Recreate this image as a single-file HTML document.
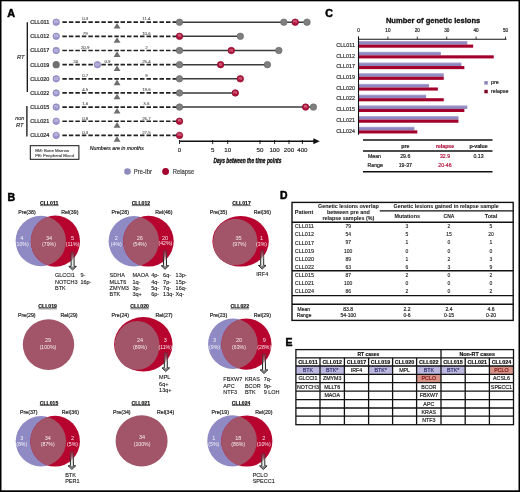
<!DOCTYPE html>
<html><head><meta charset="utf-8"><style>
html,body{margin:0;padding:0;background:#fff;overflow:hidden;width:520px;height:492px;}
svg{display:block;will-change:transform;font-family:"Liberation Sans", sans-serif;}
</style></head><body>
<svg width="520" height="492" viewBox="0 0 520 492">
<rect x="0.00" y="0.00" width="520.00" height="492.00" fill="#fff" />
<text x="7.30" y="16.97" font-size="10.8" text-anchor="start" stroke="#000" stroke-width="0.5" font-weight="bold" fill="#000" >A</text>
<line x1="27.30" y1="22.30" x2="27.30" y2="92.00" stroke="#111" stroke-width="1.3" />
<line x1="26.90" y1="105.90" x2="26.90" y2="136.40" stroke="#111" stroke-width="1.3" />
<text x="20.80" y="59.38" font-size="5.8" text-anchor="middle" stroke="#333" stroke-width="0.18" font-style="italic" fill="#333" >RT</text>
<text x="19.80" y="120.23" font-size="5.5" text-anchor="middle" stroke="#333" stroke-width="0.18" font-style="italic" fill="#333" >non</text>
<text x="19.80" y="126.78" font-size="5.8" text-anchor="middle" stroke="#333" stroke-width="0.18" font-style="italic" fill="#333" >RT</text>
<text x="30.20" y="24.13" font-size="5.4" text-anchor="start" stroke="#2a2a2a" stroke-width="0.22" fill="#2a2a2a" textLength="19.2" lengthAdjust="spacingAndGlyphs" >CLL011</text>
<line x1="62.35" y1="22.20" x2="118.90" y2="22.20" stroke="#222" stroke-width="1.7" stroke-dasharray="4.5 2"/>
<line x1="120.50" y1="22.20" x2="177.00" y2="22.20" stroke="#222" stroke-width="1.7" stroke-dasharray="4.5 2"/>
<polygon points="113.6,28.60 117.05,23.00 120.5,28.60" fill="#6e6e6e"/>
<text x="85.20" y="20.48" font-size="4.4" text-anchor="middle" stroke="#444" stroke-width="0.05" fill="#444" >0.3</text>
<text x="146.40" y="20.48" font-size="4.4" text-anchor="middle" stroke="#444" stroke-width="0.05" fill="#444" >11.4</text>
<text x="30.20" y="38.28" font-size="5.4" text-anchor="start" stroke="#2a2a2a" stroke-width="0.22" fill="#2a2a2a" textLength="19.2" lengthAdjust="spacingAndGlyphs" >CLL012</text>
<line x1="62.35" y1="36.35" x2="118.90" y2="36.35" stroke="#222" stroke-width="1.7" stroke-dasharray="4.5 2"/>
<line x1="120.50" y1="36.35" x2="177.00" y2="36.35" stroke="#222" stroke-width="1.7" stroke-dasharray="4.5 2"/>
<polygon points="113.6,42.75 117.05,37.15 120.5,42.75" fill="#6e6e6e"/>
<text x="85.20" y="34.63" font-size="4.4" text-anchor="middle" stroke="#444" stroke-width="0.05" fill="#444" >79</text>
<text x="146.40" y="34.63" font-size="4.4" text-anchor="middle" stroke="#444" stroke-width="0.05" fill="#444" >10.6</text>
<text x="30.20" y="52.43" font-size="5.4" text-anchor="start" stroke="#2a2a2a" stroke-width="0.22" fill="#2a2a2a" textLength="19.2" lengthAdjust="spacingAndGlyphs" >CLL017</text>
<line x1="62.35" y1="50.50" x2="118.90" y2="50.50" stroke="#222" stroke-width="1.7" stroke-dasharray="4.5 2"/>
<line x1="120.50" y1="50.50" x2="177.00" y2="50.50" stroke="#222" stroke-width="1.7" stroke-dasharray="4.5 2"/>
<polygon points="113.6,56.90 117.05,51.30 120.5,56.90" fill="#6e6e6e"/>
<text x="85.20" y="48.78" font-size="4.4" text-anchor="middle" stroke="#444" stroke-width="0.05" fill="#444" >20.9</text>
<text x="146.40" y="48.78" font-size="4.4" text-anchor="middle" stroke="#444" stroke-width="0.05" fill="#444" >2</text>
<text x="30.20" y="66.58" font-size="5.4" text-anchor="start" stroke="#2a2a2a" stroke-width="0.22" fill="#2a2a2a" textLength="19.2" lengthAdjust="spacingAndGlyphs" >CLL019</text>
<line x1="62.35" y1="64.65" x2="118.90" y2="64.65" stroke="#222" stroke-width="1.7" stroke-dasharray="4.5 2"/>
<line x1="120.50" y1="64.65" x2="177.00" y2="64.65" stroke="#222" stroke-width="1.7" stroke-dasharray="4.5 2"/>
<polygon points="113.6,71.05 117.05,65.45 120.5,71.05" fill="#6e6e6e"/>
<text x="146.40" y="62.93" font-size="4.4" text-anchor="middle" stroke="#444" stroke-width="0.05" fill="#444" >25.4</text>
<text x="30.20" y="80.73" font-size="5.4" text-anchor="start" stroke="#2a2a2a" stroke-width="0.22" fill="#2a2a2a" textLength="19.2" lengthAdjust="spacingAndGlyphs" >CLL020</text>
<line x1="62.35" y1="78.80" x2="118.90" y2="78.80" stroke="#222" stroke-width="1.7" stroke-dasharray="4.5 2"/>
<line x1="120.50" y1="78.80" x2="177.00" y2="78.80" stroke="#222" stroke-width="1.7" stroke-dasharray="4.5 2"/>
<polygon points="113.6,85.20 117.05,79.60 120.5,85.20" fill="#6e6e6e"/>
<text x="85.20" y="77.08" font-size="4.4" text-anchor="middle" stroke="#444" stroke-width="0.05" fill="#444" >0.7</text>
<text x="146.40" y="77.08" font-size="4.4" text-anchor="middle" stroke="#444" stroke-width="0.05" fill="#444" >9</text>
<text x="30.20" y="94.88" font-size="5.4" text-anchor="start" stroke="#2a2a2a" stroke-width="0.22" fill="#2a2a2a" textLength="19.2" lengthAdjust="spacingAndGlyphs" >CLL022</text>
<line x1="62.35" y1="92.95" x2="118.90" y2="92.95" stroke="#222" stroke-width="1.7" stroke-dasharray="4.5 2"/>
<line x1="120.50" y1="92.95" x2="177.00" y2="92.95" stroke="#222" stroke-width="1.7" stroke-dasharray="4.5 2"/>
<polygon points="113.6,99.35 117.05,93.75 120.5,99.35" fill="#6e6e6e"/>
<text x="85.20" y="91.23" font-size="4.4" text-anchor="middle" stroke="#444" stroke-width="0.05" fill="#444" >4.5</text>
<text x="146.40" y="91.23" font-size="4.4" text-anchor="middle" stroke="#444" stroke-width="0.05" fill="#444" >19.6</text>
<text x="30.20" y="109.03" font-size="5.4" text-anchor="start" stroke="#2a2a2a" stroke-width="0.22" fill="#2a2a2a" textLength="19.2" lengthAdjust="spacingAndGlyphs" >CLL015</text>
<line x1="62.35" y1="107.10" x2="118.90" y2="107.10" stroke="#222" stroke-width="1.7" stroke-dasharray="4.5 2"/>
<line x1="120.50" y1="107.10" x2="177.00" y2="107.10" stroke="#222" stroke-width="1.7" stroke-dasharray="4.5 2"/>
<polygon points="113.6,113.50 117.05,107.90 120.5,113.50" fill="#6e6e6e"/>
<text x="85.20" y="105.38" font-size="4.4" text-anchor="middle" stroke="#444" stroke-width="0.05" fill="#444" >1.6</text>
<text x="146.40" y="105.38" font-size="4.4" text-anchor="middle" stroke="#444" stroke-width="0.05" fill="#444" >3.6</text>
<text x="30.20" y="123.18" font-size="5.4" text-anchor="start" stroke="#2a2a2a" stroke-width="0.22" fill="#2a2a2a" textLength="19.2" lengthAdjust="spacingAndGlyphs" >CLL021</text>
<line x1="62.35" y1="121.25" x2="118.90" y2="121.25" stroke="#222" stroke-width="1.7" stroke-dasharray="4.5 2"/>
<line x1="120.50" y1="121.25" x2="177.00" y2="121.25" stroke="#222" stroke-width="1.7" stroke-dasharray="4.5 2"/>
<polygon points="113.6,127.65 117.05,122.05 120.5,127.65" fill="#6e6e6e"/>
<text x="85.20" y="119.53" font-size="4.4" text-anchor="middle" stroke="#444" stroke-width="0.05" fill="#444" >0.8</text>
<text x="146.40" y="119.53" font-size="4.4" text-anchor="middle" stroke="#444" stroke-width="0.05" fill="#444" >26.7</text>
<text x="30.20" y="137.33" font-size="5.4" text-anchor="start" stroke="#2a2a2a" stroke-width="0.22" fill="#2a2a2a" textLength="19.2" lengthAdjust="spacingAndGlyphs" >CLL024</text>
<line x1="62.35" y1="135.40" x2="118.90" y2="135.40" stroke="#222" stroke-width="1.7" stroke-dasharray="4.5 2"/>
<line x1="120.50" y1="135.40" x2="177.00" y2="135.40" stroke="#222" stroke-width="1.7" stroke-dasharray="4.5 2"/>
<polygon points="113.6,141.80 117.05,136.20 120.5,141.80" fill="#6e6e6e"/>
<text x="85.20" y="133.68" font-size="4.4" text-anchor="middle" stroke="#444" stroke-width="0.05" fill="#444" >0.3</text>
<text x="146.40" y="133.68" font-size="4.4" text-anchor="middle" stroke="#444" stroke-width="0.05" fill="#444" >27.5</text>
<text x="75.60" y="62.93" font-size="4.4" text-anchor="middle" stroke="#444" stroke-width="0.05" fill="#444" >24</text>
<text x="107.50" y="62.93" font-size="4.4" text-anchor="middle" stroke="#444" stroke-width="0.05" fill="#444" >0.9</text>
<line x1="179.50" y1="22.20" x2="307.00" y2="22.20" stroke="#3a3a3a" stroke-width="1.5" />
<line x1="179.50" y1="36.35" x2="240.30" y2="36.35" stroke="#3a3a3a" stroke-width="1.5" />
<line x1="179.50" y1="50.50" x2="278.80" y2="50.50" stroke="#3a3a3a" stroke-width="1.5" />
<line x1="179.50" y1="64.65" x2="267.40" y2="64.65" stroke="#3a3a3a" stroke-width="1.5" />
<line x1="179.50" y1="78.80" x2="240.30" y2="78.80" stroke="#3a3a3a" stroke-width="1.5" />
<line x1="179.50" y1="92.95" x2="235.30" y2="92.95" stroke="#3a3a3a" stroke-width="1.5" />
<line x1="179.50" y1="107.10" x2="313.40" y2="107.10" stroke="#3a3a3a" stroke-width="1.5" />
<circle cx="56.20" cy="22.20" r="3.25" fill="#9c96cc" stroke="#8a84c0" stroke-width="0.7"/>
<text x="56.20" y="23.20" font-size="2.8" text-anchor="middle" fill="#fff" fill-opacity="0.55">BM</text>
<circle cx="56.20" cy="36.35" r="3.25" fill="#9c96cc" stroke="#8a84c0" stroke-width="0.7"/>
<text x="56.20" y="37.35" font-size="2.8" text-anchor="middle" fill="#fff" fill-opacity="0.55">BM</text>
<circle cx="56.20" cy="50.50" r="3.25" fill="#9c96cc" stroke="#8a84c0" stroke-width="0.7"/>
<text x="56.20" y="51.50" font-size="2.8" text-anchor="middle" fill="#fff" fill-opacity="0.55">BM</text>
<circle cx="56.20" cy="64.65" r="3.60" fill="#6f6f6f" />
<circle cx="97.40" cy="64.65" r="3.25" fill="#9c96cc" stroke="#8a84c0" stroke-width="0.7"/>
<text x="97.40" y="65.65" font-size="2.8" text-anchor="middle" fill="#fff" fill-opacity="0.55">BM</text>
<circle cx="56.20" cy="78.80" r="3.25" fill="#9c96cc" stroke="#8a84c0" stroke-width="0.7"/>
<text x="56.20" y="79.80" font-size="2.8" text-anchor="middle" fill="#fff" fill-opacity="0.55">BM</text>
<circle cx="56.20" cy="92.95" r="3.25" fill="#9c96cc" stroke="#8a84c0" stroke-width="0.7"/>
<text x="56.20" y="93.95" font-size="2.8" text-anchor="middle" fill="#fff" fill-opacity="0.55">BM</text>
<circle cx="56.20" cy="107.10" r="3.25" fill="#9c96cc" stroke="#8a84c0" stroke-width="0.7"/>
<text x="56.20" y="108.10" font-size="2.8" text-anchor="middle" fill="#fff" fill-opacity="0.55">PB</text>
<circle cx="56.20" cy="121.25" r="3.25" fill="#9c96cc" stroke="#8a84c0" stroke-width="0.7"/>
<text x="56.20" y="122.25" font-size="2.8" text-anchor="middle" fill="#fff" fill-opacity="0.55">BM</text>
<circle cx="56.20" cy="135.40" r="3.25" fill="#9c96cc" stroke="#8a84c0" stroke-width="0.7"/>
<text x="56.20" y="136.40" font-size="2.8" text-anchor="middle" fill="#fff" fill-opacity="0.55">BM</text>
<circle cx="179.50" cy="22.20" r="3.25" fill="#7f7f7f" stroke="#6a6a6a" stroke-width="0.7"/>
<circle cx="283.80" cy="22.20" r="3.25" fill="#7f7f7f" stroke="#6a6a6a" stroke-width="0.7"/>
<circle cx="295.20" cy="22.20" r="3.25" fill="#b3123a" stroke="#8a0a2c" stroke-width="0.7"/>
<text x="295.20" y="23.20" font-size="2.8" text-anchor="middle" fill="#fff" fill-opacity="0.55">PB</text>
<circle cx="307.00" cy="22.20" r="3.25" fill="#7f7f7f" stroke="#6a6a6a" stroke-width="0.7"/>
<circle cx="179.50" cy="36.35" r="3.25" fill="#b3123a" stroke="#8a0a2c" stroke-width="0.7"/>
<text x="179.50" y="37.35" font-size="2.8" text-anchor="middle" fill="#fff" fill-opacity="0.55">PB</text>
<circle cx="240.30" cy="36.35" r="3.25" fill="#7f7f7f" stroke="#6a6a6a" stroke-width="0.7"/>
<circle cx="179.50" cy="50.50" r="3.25" fill="#7f7f7f" stroke="#6a6a6a" stroke-width="0.7"/>
<circle cx="231.30" cy="50.50" r="3.25" fill="#b3123a" stroke="#8a0a2c" stroke-width="0.7"/>
<text x="231.30" y="51.50" font-size="2.8" text-anchor="middle" fill="#fff" fill-opacity="0.55">PB</text>
<circle cx="278.80" cy="50.50" r="3.25" fill="#7f7f7f" stroke="#6a6a6a" stroke-width="0.7"/>
<circle cx="179.50" cy="64.65" r="3.25" fill="#7f7f7f" stroke="#6a6a6a" stroke-width="0.7"/>
<circle cx="220.60" cy="64.65" r="3.25" fill="#b3123a" stroke="#8a0a2c" stroke-width="0.7"/>
<text x="220.60" y="65.65" font-size="2.8" text-anchor="middle" fill="#fff" fill-opacity="0.55">PB</text>
<circle cx="267.40" cy="64.65" r="3.25" fill="#7f7f7f" stroke="#6a6a6a" stroke-width="0.7"/>
<circle cx="179.50" cy="78.80" r="3.25" fill="#7f7f7f" stroke="#6a6a6a" stroke-width="0.7"/>
<circle cx="240.30" cy="78.80" r="3.25" fill="#b3123a" stroke="#8a0a2c" stroke-width="0.7"/>
<text x="240.30" y="79.80" font-size="2.8" text-anchor="middle" fill="#fff" fill-opacity="0.55">PB</text>
<circle cx="179.50" cy="92.95" r="3.25" fill="#7f7f7f" stroke="#6a6a6a" stroke-width="0.7"/>
<circle cx="235.30" cy="92.95" r="3.25" fill="#b3123a" stroke="#8a0a2c" stroke-width="0.7"/>
<text x="235.30" y="93.95" font-size="2.8" text-anchor="middle" fill="#fff" fill-opacity="0.55">PB</text>
<circle cx="179.50" cy="107.10" r="3.25" fill="#7f7f7f" stroke="#6a6a6a" stroke-width="0.7"/>
<circle cx="305.60" cy="107.10" r="3.25" fill="#b3123a" stroke="#8a0a2c" stroke-width="0.7"/>
<text x="305.60" y="108.10" font-size="2.8" text-anchor="middle" fill="#fff" fill-opacity="0.55">PB</text>
<circle cx="313.40" cy="107.10" r="3.25" fill="#7f7f7f" stroke="#6a6a6a" stroke-width="0.7"/>
<circle cx="179.50" cy="121.25" r="3.25" fill="#b3123a" stroke="#8a0a2c" stroke-width="0.7"/>
<text x="179.50" y="122.25" font-size="2.8" text-anchor="middle" fill="#fff" fill-opacity="0.55">PB</text>
<circle cx="179.50" cy="135.40" r="3.25" fill="#b3123a" stroke="#8a0a2c" stroke-width="0.7"/>
<text x="179.50" y="136.40" font-size="2.8" text-anchor="middle" fill="#fff" fill-opacity="0.55">BM</text>
<line x1="179.50" y1="141.30" x2="316.00" y2="141.30" stroke="#111" stroke-width="1.6" />
<polygon points="313.3,138.3 319.8,141.3 313.3,144.3" fill="#111"/>
<line x1="179.50" y1="140.00" x2="179.50" y2="144.00" stroke="#111" stroke-width="0.9" />
<text x="179.50" y="151.65" font-size="6.2" text-anchor="middle" stroke="#222" stroke-width="0.15" fill="#222" >0</text>
<line x1="212.70" y1="140.00" x2="212.70" y2="144.00" stroke="#111" stroke-width="0.9" />
<text x="212.70" y="151.65" font-size="6.2" text-anchor="middle" stroke="#222" stroke-width="0.15" fill="#222" >5</text>
<line x1="227.70" y1="140.00" x2="227.70" y2="144.00" stroke="#111" stroke-width="0.9" />
<text x="227.70" y="151.65" font-size="6.2" text-anchor="middle" stroke="#222" stroke-width="0.15" fill="#222" >10</text>
<line x1="260.00" y1="140.00" x2="260.00" y2="144.00" stroke="#111" stroke-width="0.9" />
<text x="260.00" y="151.65" font-size="6.2" text-anchor="middle" stroke="#222" stroke-width="0.15" fill="#222" >50</text>
<line x1="274.60" y1="140.00" x2="274.60" y2="144.00" stroke="#111" stroke-width="0.9" />
<text x="274.60" y="151.65" font-size="6.2" text-anchor="middle" stroke="#222" stroke-width="0.15" fill="#222" >100</text>
<line x1="289.00" y1="140.00" x2="289.00" y2="144.00" stroke="#111" stroke-width="0.9" />
<text x="289.00" y="151.65" font-size="6.2" text-anchor="middle" stroke="#222" stroke-width="0.15" fill="#222" >200</text>
<line x1="302.40" y1="140.00" x2="302.40" y2="144.00" stroke="#111" stroke-width="0.9" />
<text x="302.40" y="151.65" font-size="6.2" text-anchor="middle" stroke="#222" stroke-width="0.15" fill="#222" >400</text>
<text x="247.40" y="162.99" font-size="7.8" text-anchor="middle" stroke="#1a1a1a" stroke-width="0.35" font-weight="bold" font-style="italic" textLength="68" lengthAdjust="spacingAndGlyphs" >Days between the time points</text>
<text x="116.80" y="149.99" font-size="5.0" text-anchor="middle" stroke="#222" stroke-width="0.18" font-style="italic" fill="#222" textLength="54" lengthAdjust="spacingAndGlyphs" >Numbers are in months</text>
<rect x="30.3" y="145.7" width="48.6" height="13.6" fill="none" stroke="#111" stroke-width="1"/>
<text x="35.20" y="151.78" font-size="4.4" text-anchor="start" stroke="#333" stroke-width="0.1" fill="#333" textLength="34" lengthAdjust="spacingAndGlyphs" >BM: Bone Marrow</text>
<text x="35.20" y="156.58" font-size="4.4" text-anchor="start" stroke="#333" stroke-width="0.1" fill="#333" textLength="38.8" lengthAdjust="spacingAndGlyphs" >PB: Peripheral Blood</text>
<circle cx="127.50" cy="171.50" r="3.30" fill="#8e8ab9" />
<circle cx="165.60" cy="171.50" r="3.40" fill="#a3052c" />
<text x="133.70" y="173.79" font-size="6.4" text-anchor="start" stroke="#444" stroke-width="0.2" fill="#444" textLength="18.3" lengthAdjust="spacingAndGlyphs" >Pre-Ibr</text>
<text x="172.70" y="173.79" font-size="6.4" text-anchor="start" stroke="#444" stroke-width="0.2" fill="#444" textLength="21.5" lengthAdjust="spacingAndGlyphs" >Relapse</text>
<defs><linearGradient id="bl" x1="0" y1="0" x2="0" y2="1"><stop offset="0" stop-color="#b3acd6"/><stop offset="0.45" stop-color="#9088c0"/><stop offset="1" stop-color="#8c84bd"/></linearGradient></defs>
<text x="325.20" y="17.19" font-size="10.6" text-anchor="start" stroke="#000" stroke-width="0.5" font-weight="bold" fill="#000" >C</text>
<text x="385.90" y="22.95" font-size="7.4" text-anchor="start" stroke="#111" stroke-width="0.3" font-weight="bold" fill="#111" textLength="94.3" lengthAdjust="spacingAndGlyphs" >Number of genetic lesions</text>
<text x="358.50" y="32.15" font-size="4.6" text-anchor="middle" stroke="#222" stroke-width="0.18" fill="#222" >0</text>
<line x1="358.50" y1="36.60" x2="358.50" y2="39.20" stroke="#111" stroke-width="0.8" />
<text x="387.90" y="32.15" font-size="4.6" text-anchor="middle" stroke="#222" stroke-width="0.18" fill="#222" >10</text>
<line x1="387.90" y1="36.60" x2="387.90" y2="39.20" stroke="#111" stroke-width="0.8" />
<text x="417.30" y="32.15" font-size="4.6" text-anchor="middle" stroke="#222" stroke-width="0.18" fill="#222" >20</text>
<line x1="417.30" y1="36.60" x2="417.30" y2="39.20" stroke="#111" stroke-width="0.8" />
<text x="446.70" y="32.15" font-size="4.6" text-anchor="middle" stroke="#222" stroke-width="0.18" fill="#222" >30</text>
<line x1="446.70" y1="36.60" x2="446.70" y2="39.20" stroke="#111" stroke-width="0.8" />
<text x="476.10" y="32.15" font-size="4.6" text-anchor="middle" stroke="#222" stroke-width="0.18" fill="#222" >40</text>
<line x1="476.10" y1="36.60" x2="476.10" y2="39.20" stroke="#111" stroke-width="0.8" />
<text x="505.50" y="32.15" font-size="4.6" text-anchor="middle" stroke="#222" stroke-width="0.18" fill="#222" >50</text>
<line x1="505.50" y1="36.60" x2="505.50" y2="39.20" stroke="#111" stroke-width="0.8" />
<line x1="358.50" y1="39.20" x2="506.50" y2="39.20" stroke="#111" stroke-width="1.1" />
<rect x="358.50" y="41.00" width="108.78" height="3.60" fill="url(#bl)" />
<rect x="358.50" y="44.60" width="114.66" height="3.10" fill="#a3002b" />
<text x="355.00" y="46.80" font-size="5.3" text-anchor="end" stroke="#222" stroke-width="0.14" fill="#222" textLength="18.8" lengthAdjust="spacingAndGlyphs" >CLL011</text>
<rect x="358.50" y="51.72" width="82.32" height="3.60" fill="url(#bl)" />
<rect x="358.50" y="55.32" width="135.24" height="3.10" fill="#a3002b" />
<text x="355.00" y="57.52" font-size="5.3" text-anchor="end" stroke="#222" stroke-width="0.14" fill="#222" textLength="18.8" lengthAdjust="spacingAndGlyphs" >CLL012</text>
<rect x="358.50" y="62.44" width="102.90" height="3.60" fill="url(#bl)" />
<rect x="358.50" y="66.04" width="105.84" height="3.10" fill="#a3002b" />
<text x="355.00" y="68.24" font-size="5.3" text-anchor="end" stroke="#222" stroke-width="0.14" fill="#222" textLength="18.8" lengthAdjust="spacingAndGlyphs" >CLL017</text>
<rect x="358.50" y="73.16" width="85.26" height="3.60" fill="url(#bl)" />
<rect x="358.50" y="76.76" width="85.26" height="3.10" fill="#a3002b" />
<text x="355.00" y="78.96" font-size="5.3" text-anchor="end" stroke="#222" stroke-width="0.14" fill="#222" textLength="18.8" lengthAdjust="spacingAndGlyphs" >CLL019</text>
<rect x="358.50" y="83.88" width="70.56" height="3.60" fill="url(#bl)" />
<rect x="358.50" y="87.48" width="79.38" height="3.10" fill="#a3002b" />
<text x="355.00" y="89.68" font-size="5.3" text-anchor="end" stroke="#222" stroke-width="0.14" fill="#222" textLength="18.8" lengthAdjust="spacingAndGlyphs" >CLL020</text>
<rect x="358.50" y="94.60" width="67.62" height="3.60" fill="url(#bl)" />
<rect x="358.50" y="98.20" width="85.26" height="3.10" fill="#a3002b" />
<text x="355.00" y="100.40" font-size="5.3" text-anchor="end" stroke="#222" stroke-width="0.14" fill="#222" textLength="18.8" lengthAdjust="spacingAndGlyphs" >CLL022</text>
<rect x="358.50" y="105.32" width="108.78" height="3.60" fill="url(#bl)" />
<rect x="358.50" y="108.92" width="105.84" height="3.10" fill="#a3002b" />
<text x="355.00" y="111.12" font-size="5.3" text-anchor="end" stroke="#222" stroke-width="0.14" fill="#222" textLength="18.8" lengthAdjust="spacingAndGlyphs" >CLL015</text>
<rect x="358.50" y="116.04" width="99.96" height="3.60" fill="url(#bl)" />
<rect x="358.50" y="119.64" width="99.96" height="3.10" fill="#a3002b" />
<text x="355.00" y="121.84" font-size="5.3" text-anchor="end" stroke="#222" stroke-width="0.14" fill="#222" textLength="18.8" lengthAdjust="spacingAndGlyphs" >CLL021</text>
<rect x="358.50" y="126.76" width="55.86" height="3.60" fill="url(#bl)" />
<rect x="358.50" y="130.36" width="58.80" height="3.10" fill="#a3002b" />
<text x="355.00" y="132.56" font-size="5.3" text-anchor="end" stroke="#222" stroke-width="0.14" fill="#222" textLength="18.8" lengthAdjust="spacingAndGlyphs" >CLL024</text>
<line x1="358.50" y1="36.50" x2="358.50" y2="134.80" stroke="#111" stroke-width="1.1" />
<rect x="484.30" y="81.10" width="3.50" height="3.50" fill="#8a87b5" />
<rect x="484.30" y="89.80" width="3.50" height="3.50" fill="#7e0a28" />
<text x="491.00" y="84.18" font-size="5.3" text-anchor="start" stroke="#222" stroke-width="0.18" fill="#222" >pre</text>
<text x="491.00" y="92.88" font-size="5.3" text-anchor="start" stroke="#222" stroke-width="0.18" fill="#222" >relapse</text>
<line x1="363.00" y1="140.00" x2="492.50" y2="140.00" stroke="#111" stroke-width="1.5" />
<line x1="363.00" y1="150.90" x2="492.50" y2="150.90" stroke="#111" stroke-width="1.5" />
<line x1="363.00" y1="171.70" x2="492.50" y2="171.70" stroke="#111" stroke-width="1.5" />
<text x="405.30" y="147.55" font-size="5.2" text-anchor="middle" stroke="#222" stroke-width="0.18" font-weight="bold" fill="#222" >pre</text>
<text x="445.00" y="147.55" font-size="5.2" text-anchor="middle" stroke="#b0123a" stroke-width="0.18" font-weight="bold" fill="#b0123a" >relapse</text>
<text x="478.50" y="147.55" font-size="5.2" text-anchor="middle" stroke="#222" stroke-width="0.18" font-weight="bold" fill="#222" >p-value</text>
<text x="368.00" y="158.46" font-size="5.2" text-anchor="start" stroke="#222" stroke-width="0.18" fill="#222" >Mean</text>
<text x="367.50" y="167.26" font-size="5.2" text-anchor="start" stroke="#222" stroke-width="0.18" fill="#222" >Range</text>
<text x="405.30" y="158.46" font-size="5.2" text-anchor="middle" stroke="#222" stroke-width="0.18" fill="#222" >29.6</text>
<text x="445.00" y="158.46" font-size="5.2" text-anchor="middle" stroke="#b0123a" stroke-width="0.18" fill="#b0123a" >32.9</text>
<text x="478.50" y="158.46" font-size="5.2" text-anchor="middle" stroke="#222" stroke-width="0.18" fill="#222" >0.13</text>
<text x="405.30" y="167.26" font-size="5.2" text-anchor="middle" stroke="#222" stroke-width="0.18" fill="#222" >19-37</text>
<text x="445.00" y="167.26" font-size="5.2" text-anchor="middle" stroke="#b0123a" stroke-width="0.18" fill="#b0123a" >20-46</text>
<defs><linearGradient id="ag" x1="0" y1="0" x2="0" y2="1"><stop offset="0" stop-color="#555" stop-opacity="0.35"/><stop offset="0.55" stop-color="#e6ebe6" stop-opacity="0.9"/><stop offset="1" stop-color="#e6ebe6"/></linearGradient><linearGradient id="as" x1="0" y1="0" x2="0" y2="1"><stop offset="0" stop-color="#333" stop-opacity="0.3"/><stop offset="0.5" stop-color="#2a2a2a"/><stop offset="1" stop-color="#222"/></linearGradient></defs>
<text x="7.50" y="200.59" font-size="10.6" text-anchor="start" stroke="#000" stroke-width="0.5" font-weight="bold" fill="#000" >B</text>
<text x="49.20" y="205.20" font-size="5.6" text-anchor="middle" stroke="#111" stroke-width="0.18" font-weight="bold" fill="#111" textLength="18.5" lengthAdjust="spacingAndGlyphs" >CLL011</text>
<line x1="39.95" y1="205.60" x2="58.45" y2="205.60" stroke="#111" stroke-width="0.6" />
<text x="18.20" y="214.10" font-size="5.3" text-anchor="start" stroke="#222" stroke-width="0.18" fill="#222" textLength="17.5" lengthAdjust="spacingAndGlyphs" >Pre(38)</text>
<text x="61.20" y="214.10" font-size="5.3" text-anchor="start" stroke="#222" stroke-width="0.18" fill="#222" textLength="17.2" lengthAdjust="spacingAndGlyphs" >Rel(39)</text>
<ellipse cx="40.80" cy="241.00" rx="25.20" ry="25.20" fill="#8f89c4" />
<ellipse cx="55.40" cy="241.20" rx="24.60" ry="25.60" fill="#b6042f" />
<clipPath id="c1"><ellipse cx="40.8" cy="241.0" rx="25.2" ry="25.2"/></clipPath>
<ellipse cx="55.4" cy="241.2" rx="24.6" ry="25.6" fill="#a25568" clip-path="url(#c1)"/>
<text x="21.70" y="240.17" font-size="5.5" text-anchor="middle" fill="#fff" fill-opacity="0.9">4</text>
<text x="21.70" y="246.16" font-size="5.2" text-anchor="middle" fill="#fff" fill-opacity="0.9">(10%)</text>
<text x="49.00" y="240.17" font-size="5.5" text-anchor="middle" fill="#fff" fill-opacity="0.9">34</text>
<text x="49.00" y="246.16" font-size="5.2" text-anchor="middle" fill="#fff" fill-opacity="0.9">(79%)</text>
<text x="72.60" y="240.17" font-size="5.5" text-anchor="middle" fill="#fff" fill-opacity="0.9">5</text>
<text x="72.60" y="246.16" font-size="5.2" text-anchor="middle" fill="#fff" fill-opacity="0.9">(11%)</text>
<polygon points="71.10,252.00 74.10,252.00 74.10,266.40 76.40,266.40 72.60,270.00 68.80,266.40 71.10,266.40" fill="url(#ag)" stroke="url(#as)" stroke-width="1.0" stroke-linejoin="miter"/>
<polygon points="69.40,266.70 75.80,266.70 72.60,269.40" fill="#3a3a3a" opacity="0.6"/>
<text x="55.00" y="277.37" font-size="5.5" text-anchor="start" stroke="#222" stroke-width="0.12" fill="#222" >GLCCI1</text>
<text x="55.00" y="283.67" font-size="5.5" text-anchor="start" stroke="#222" stroke-width="0.12" fill="#222" >NOTCH3</text>
<text x="55.00" y="289.97" font-size="5.5" text-anchor="start" stroke="#222" stroke-width="0.12" fill="#222" >BTK</text>
<text x="80.40" y="277.37" font-size="5.5" text-anchor="start" stroke="#222" stroke-width="0.12" fill="#222" >9-</text>
<text x="80.40" y="283.67" font-size="5.5" text-anchor="start" stroke="#222" stroke-width="0.12" fill="#222" >16p-</text>
<text x="140.90" y="205.20" font-size="5.6" text-anchor="middle" stroke="#111" stroke-width="0.18" font-weight="bold" fill="#111" textLength="18.5" lengthAdjust="spacingAndGlyphs" >CLL012</text>
<line x1="131.65" y1="205.60" x2="150.15" y2="205.60" stroke="#111" stroke-width="0.6" />
<text x="111.40" y="213.90" font-size="5.3" text-anchor="start" stroke="#222" stroke-width="0.18" fill="#222" textLength="17.5" lengthAdjust="spacingAndGlyphs" >Pre(28)</text>
<text x="155.30" y="213.90" font-size="5.3" text-anchor="start" stroke="#222" stroke-width="0.18" fill="#222" textLength="17.2" lengthAdjust="spacingAndGlyphs" >Rel(46)</text>
<ellipse cx="133.80" cy="241.20" rx="25.20" ry="25.20" fill="#8f89c4" />
<ellipse cx="148.40" cy="241.20" rx="25.30" ry="25.40" fill="#b6042f" />
<clipPath id="c2"><ellipse cx="133.8" cy="241.2" rx="25.2" ry="25.2"/></clipPath>
<ellipse cx="148.4" cy="241.2" rx="25.3" ry="25.4" fill="#a25568" clip-path="url(#c2)"/>
<text x="116.30" y="239.67" font-size="5.5" text-anchor="middle" fill="#fff" fill-opacity="0.9">2</text>
<text x="116.30" y="245.76" font-size="5.2" text-anchor="middle" fill="#fff" fill-opacity="0.9">(4%)</text>
<text x="139.80" y="239.67" font-size="5.5" text-anchor="middle" fill="#fff" fill-opacity="0.9">26</text>
<text x="139.80" y="245.76" font-size="5.2" text-anchor="middle" fill="#fff" fill-opacity="0.9">(54%)</text>
<text x="165.00" y="239.77" font-size="5.5" text-anchor="middle" fill="#fff" fill-opacity="0.9">20</text>
<text x="165.40" y="245.46" font-size="5.2" text-anchor="middle" fill="#fff" fill-opacity="0.9">(42%)</text>
<polygon points="163.50,250.50 166.50,250.50 166.50,265.70 168.80,265.70 165.00,269.30 161.20,265.70 163.50,265.70" fill="url(#ag)" stroke="url(#as)" stroke-width="1.0" stroke-linejoin="miter"/>
<polygon points="161.80,266.00 168.20,266.00 165.00,268.70" fill="#3a3a3a" opacity="0.6"/>
<text x="109.60" y="277.37" font-size="5.5" text-anchor="start" stroke="#222" stroke-width="0.12" fill="#222" >SDHA</text>
<text x="109.60" y="283.67" font-size="5.5" text-anchor="start" stroke="#222" stroke-width="0.12" fill="#222" >MLLT6</text>
<text x="109.60" y="289.97" font-size="5.5" text-anchor="start" stroke="#222" stroke-width="0.12" fill="#222" >ZMYM3</text>
<text x="109.60" y="296.27" font-size="5.5" text-anchor="start" stroke="#222" stroke-width="0.12" fill="#222" >BTK</text>
<text x="132.40" y="277.37" font-size="5.5" text-anchor="start" stroke="#222" stroke-width="0.12" fill="#222" >MAOA</text>
<text x="132.40" y="283.67" font-size="5.5" text-anchor="start" stroke="#222" stroke-width="0.12" fill="#222" >1q-</text>
<text x="132.40" y="289.97" font-size="5.5" text-anchor="start" stroke="#222" stroke-width="0.12" fill="#222" >3p-</text>
<text x="132.40" y="296.27" font-size="5.5" text-anchor="start" stroke="#222" stroke-width="0.12" fill="#222" >3q+</text>
<text x="151.20" y="277.37" font-size="5.5" text-anchor="start" stroke="#222" stroke-width="0.12" fill="#222" >4p-</text>
<text x="151.20" y="283.67" font-size="5.5" text-anchor="start" stroke="#222" stroke-width="0.12" fill="#222" >4q-</text>
<text x="151.20" y="289.97" font-size="5.5" text-anchor="start" stroke="#222" stroke-width="0.12" fill="#222" >5q-</text>
<text x="151.20" y="296.27" font-size="5.5" text-anchor="start" stroke="#222" stroke-width="0.12" fill="#222" >6p-</text>
<text x="163.10" y="277.37" font-size="5.5" text-anchor="start" stroke="#222" stroke-width="0.12" fill="#222" >6q-</text>
<text x="163.10" y="283.67" font-size="5.5" text-anchor="start" stroke="#222" stroke-width="0.12" fill="#222" >7p-</text>
<text x="163.10" y="289.97" font-size="5.5" text-anchor="start" stroke="#222" stroke-width="0.12" fill="#222" >7q-</text>
<text x="163.10" y="296.27" font-size="5.5" text-anchor="start" stroke="#222" stroke-width="0.12" fill="#222" >13q-</text>
<text x="175.60" y="277.37" font-size="5.5" text-anchor="start" stroke="#222" stroke-width="0.12" fill="#222" >13p-</text>
<text x="175.60" y="283.67" font-size="5.5" text-anchor="start" stroke="#222" stroke-width="0.12" fill="#222" >15p-</text>
<text x="175.60" y="289.97" font-size="5.5" text-anchor="start" stroke="#222" stroke-width="0.12" fill="#222" >16q-</text>
<text x="175.60" y="296.27" font-size="5.5" text-anchor="start" stroke="#222" stroke-width="0.12" fill="#222" >Xq-</text>
<text x="241.50" y="205.20" font-size="5.6" text-anchor="middle" stroke="#111" stroke-width="0.18" font-weight="bold" fill="#111" textLength="18.5" lengthAdjust="spacingAndGlyphs" >CLL017</text>
<line x1="232.25" y1="205.60" x2="250.75" y2="205.60" stroke="#111" stroke-width="0.6" />
<text x="209.80" y="213.90" font-size="5.3" text-anchor="start" stroke="#222" stroke-width="0.18" fill="#222" textLength="17.5" lengthAdjust="spacingAndGlyphs" >Pre(35)</text>
<text x="253.70" y="213.90" font-size="5.3" text-anchor="start" stroke="#222" stroke-width="0.18" fill="#222" textLength="17.2" lengthAdjust="spacingAndGlyphs" >Rel(36)</text>
<ellipse cx="240.60" cy="241.30" rx="28.20" ry="25.30" fill="#b6042f" />
<ellipse cx="235.30" cy="242.00" rx="22.30" ry="23.30" fill="#a25568" />
<text x="238.50" y="240.27" font-size="5.5" text-anchor="middle" fill="#fff" fill-opacity="0.9">35</text>
<text x="239.50" y="246.46" font-size="5.2" text-anchor="middle" fill="#fff" fill-opacity="0.9">(97%)</text>
<text x="261.60" y="240.27" font-size="5.5" text-anchor="middle" fill="#fff" fill-opacity="0.9">1</text>
<text x="261.60" y="246.46" font-size="5.2" text-anchor="middle" fill="#fff" fill-opacity="0.9">(3%)</text>
<polygon points="260.70,250.20 263.70,250.20 263.70,265.40 266.00,265.40 262.20,269.00 258.40,265.40 260.70,265.40" fill="url(#ag)" stroke="url(#as)" stroke-width="1.0" stroke-linejoin="miter"/>
<polygon points="259.00,265.70 265.40,265.70 262.20,268.40" fill="#3a3a3a" opacity="0.6"/>
<text x="256.30" y="276.17" font-size="5.5" text-anchor="start" stroke="#222" stroke-width="0.12" fill="#222" >IRF4</text>
<text x="47.60" y="308.40" font-size="5.6" text-anchor="middle" stroke="#111" stroke-width="0.18" font-weight="bold" fill="#111" textLength="18.5" lengthAdjust="spacingAndGlyphs" >CLL019</text>
<line x1="38.35" y1="308.80" x2="56.85" y2="308.80" stroke="#111" stroke-width="0.6" />
<text x="18.10" y="317.20" font-size="5.3" text-anchor="start" stroke="#222" stroke-width="0.18" fill="#222" textLength="17.5" lengthAdjust="spacingAndGlyphs" >Pre(29)</text>
<text x="60.40" y="317.20" font-size="5.3" text-anchor="start" stroke="#222" stroke-width="0.18" fill="#222" textLength="17.2" lengthAdjust="spacingAndGlyphs" >Rel(29)</text>
<ellipse cx="48.50" cy="344.60" rx="25.70" ry="25.40" fill="#a25568" />
<text x="48.00" y="342.37" font-size="5.5" text-anchor="middle" fill="#fff" fill-opacity="0.9">29</text>
<text x="48.00" y="348.96" font-size="5.2" text-anchor="middle" fill="#fff" fill-opacity="0.9">(100%)</text>
<text x="139.60" y="308.40" font-size="5.6" text-anchor="middle" stroke="#111" stroke-width="0.18" font-weight="bold" fill="#111" textLength="18.5" lengthAdjust="spacingAndGlyphs" >CLL020</text>
<line x1="130.35" y1="308.80" x2="148.85" y2="308.80" stroke="#111" stroke-width="0.6" />
<text x="111.50" y="317.20" font-size="5.3" text-anchor="start" stroke="#222" stroke-width="0.18" fill="#222" textLength="17.5" lengthAdjust="spacingAndGlyphs" >Pre(24)</text>
<text x="155.40" y="317.20" font-size="5.3" text-anchor="start" stroke="#222" stroke-width="0.18" fill="#222" textLength="17.2" lengthAdjust="spacingAndGlyphs" >Rel(27)</text>
<ellipse cx="143.30" cy="344.30" rx="29.20" ry="27.20" fill="#b6042f" />
<ellipse cx="137.10" cy="345.40" rx="22.40" ry="24.40" fill="#a25568" />
<text x="140.00" y="342.47" font-size="5.5" text-anchor="middle" fill="#fff" fill-opacity="0.9">24</text>
<text x="140.00" y="348.66" font-size="5.2" text-anchor="middle" fill="#fff" fill-opacity="0.9">(89%)</text>
<text x="165.20" y="342.47" font-size="5.5" text-anchor="middle" fill="#fff" fill-opacity="0.9">3</text>
<text x="165.20" y="348.66" font-size="5.2" text-anchor="middle" fill="#fff" fill-opacity="0.9">(11%)</text>
<polygon points="164.30,352.70 167.30,352.70 167.30,367.90 169.60,367.90 165.80,371.50 162.00,367.90 164.30,367.90" fill="url(#ag)" stroke="url(#as)" stroke-width="1.0" stroke-linejoin="miter"/>
<polygon points="162.60,368.20 169.00,368.20 165.80,370.90" fill="#3a3a3a" opacity="0.6"/>
<text x="159.10" y="379.27" font-size="5.5" text-anchor="start" stroke="#222" stroke-width="0.12" fill="#222" >MPL</text>
<text x="159.10" y="385.57" font-size="5.5" text-anchor="start" stroke="#222" stroke-width="0.12" fill="#222" >6q+</text>
<text x="159.10" y="391.97" font-size="5.5" text-anchor="start" stroke="#222" stroke-width="0.12" fill="#222" >13q+</text>
<text x="239.80" y="308.40" font-size="5.6" text-anchor="middle" stroke="#111" stroke-width="0.18" font-weight="bold" fill="#111" textLength="18.5" lengthAdjust="spacingAndGlyphs" >CLL022</text>
<line x1="230.55" y1="308.80" x2="249.05" y2="308.80" stroke="#111" stroke-width="0.6" />
<text x="209.80" y="317.20" font-size="5.3" text-anchor="start" stroke="#222" stroke-width="0.18" fill="#222" textLength="17.5" lengthAdjust="spacingAndGlyphs" >Pre(23)</text>
<text x="253.70" y="317.20" font-size="5.3" text-anchor="start" stroke="#222" stroke-width="0.18" fill="#222" textLength="17.2" lengthAdjust="spacingAndGlyphs" >Rel(29)</text>
<ellipse cx="232.90" cy="343.80" rx="24.80" ry="25.20" fill="#8f89c4" />
<ellipse cx="246.40" cy="344.20" rx="25.10" ry="25.60" fill="#b6042f" />
<clipPath id="c3"><ellipse cx="232.9" cy="343.8" rx="24.8" ry="25.2"/></clipPath>
<ellipse cx="246.4" cy="344.2" rx="25.1" ry="25.6" fill="#a25568" clip-path="url(#c3)"/>
<text x="214.60" y="342.47" font-size="5.5" text-anchor="middle" fill="#fff" fill-opacity="0.9">3</text>
<text x="214.60" y="348.66" font-size="5.2" text-anchor="middle" fill="#fff" fill-opacity="0.9">(9%)</text>
<text x="239.00" y="342.47" font-size="5.5" text-anchor="middle" fill="#fff" fill-opacity="0.9">20</text>
<text x="239.00" y="348.66" font-size="5.2" text-anchor="middle" fill="#fff" fill-opacity="0.9">(63%)</text>
<text x="264.20" y="342.47" font-size="5.5" text-anchor="middle" fill="#fff" fill-opacity="0.9">9</text>
<text x="264.20" y="348.66" font-size="5.2" text-anchor="middle" fill="#fff" fill-opacity="0.9">(28%)</text>
<polygon points="262.50,354.00 265.50,354.00 265.50,369.90 267.80,369.90 264.00,373.50 260.20,369.90 262.50,369.90" fill="url(#ag)" stroke="url(#as)" stroke-width="1.0" stroke-linejoin="miter"/>
<polygon points="260.80,370.20 267.20,370.20 264.00,372.90" fill="#3a3a3a" opacity="0.6"/>
<text x="223.30" y="381.47" font-size="5.5" text-anchor="start" stroke="#222" stroke-width="0.12" fill="#222" >FBXW7</text>
<text x="223.30" y="387.77" font-size="5.5" text-anchor="start" stroke="#222" stroke-width="0.12" fill="#222" >APC</text>
<text x="223.30" y="394.07" font-size="5.5" text-anchor="start" stroke="#222" stroke-width="0.12" fill="#222" >NTF3</text>
<text x="244.90" y="381.47" font-size="5.5" text-anchor="start" stroke="#222" stroke-width="0.12" fill="#222" >KRAS</text>
<text x="244.90" y="387.77" font-size="5.5" text-anchor="start" stroke="#222" stroke-width="0.12" fill="#222" >BCOR</text>
<text x="244.90" y="394.07" font-size="5.5" text-anchor="start" stroke="#222" stroke-width="0.12" fill="#222" >BTK</text>
<text x="263.70" y="381.47" font-size="5.5" text-anchor="start" stroke="#222" stroke-width="0.12" fill="#222" >7q-</text>
<text x="263.70" y="387.77" font-size="5.5" text-anchor="start" stroke="#222" stroke-width="0.12" fill="#222" >9p-</text>
<text x="263.70" y="394.07" font-size="5.5" text-anchor="start" stroke="#222" stroke-width="0.12" fill="#222" >9 LOH</text>
<text x="49.00" y="405.10" font-size="5.6" text-anchor="middle" stroke="#111" stroke-width="0.18" font-weight="bold" fill="#111" textLength="18.5" lengthAdjust="spacingAndGlyphs" >CLL015</text>
<line x1="39.75" y1="405.50" x2="58.25" y2="405.50" stroke="#111" stroke-width="0.6" />
<text x="20.00" y="413.90" font-size="5.3" text-anchor="start" stroke="#222" stroke-width="0.18" fill="#222" textLength="17.5" lengthAdjust="spacingAndGlyphs" >Pre(37)</text>
<text x="61.70" y="413.90" font-size="5.3" text-anchor="start" stroke="#222" stroke-width="0.18" fill="#222" textLength="17.2" lengthAdjust="spacingAndGlyphs" >Rel(36)</text>
<ellipse cx="40.90" cy="441.30" rx="25.20" ry="25.20" fill="#8f89c4" />
<ellipse cx="55.10" cy="441.20" rx="24.80" ry="25.40" fill="#b6042f" />
<clipPath id="c4"><ellipse cx="40.9" cy="441.3" rx="25.2" ry="25.2"/></clipPath>
<ellipse cx="55.1" cy="441.2" rx="24.8" ry="25.4" fill="#a25568" clip-path="url(#c4)"/>
<text x="21.70" y="439.57" font-size="5.5" text-anchor="middle" fill="#fff" fill-opacity="0.9">3</text>
<text x="21.70" y="445.66" font-size="5.2" text-anchor="middle" fill="#fff" fill-opacity="0.9">(8%)</text>
<text x="47.70" y="439.57" font-size="5.5" text-anchor="middle" fill="#fff" fill-opacity="0.9">34</text>
<text x="47.70" y="445.66" font-size="5.2" text-anchor="middle" fill="#fff" fill-opacity="0.9">(87%)</text>
<text x="72.60" y="439.57" font-size="5.5" text-anchor="middle" fill="#fff" fill-opacity="0.9">2</text>
<text x="72.60" y="445.66" font-size="5.2" text-anchor="middle" fill="#fff" fill-opacity="0.9">(5%)</text>
<polygon points="70.40,451.50 73.40,451.50 73.40,465.80 75.70,465.80 71.90,469.40 68.10,465.80 70.40,465.80" fill="url(#ag)" stroke="url(#as)" stroke-width="1.0" stroke-linejoin="miter"/>
<polygon points="68.70,466.10 75.10,466.10 71.90,468.80" fill="#3a3a3a" opacity="0.6"/>
<text x="65.20" y="477.07" font-size="5.5" text-anchor="start" stroke="#222" stroke-width="0.12" fill="#222" >BTK</text>
<text x="65.20" y="483.27" font-size="5.5" text-anchor="start" stroke="#222" stroke-width="0.12" fill="#222" >PER1</text>
<text x="140.80" y="405.10" font-size="5.6" text-anchor="middle" stroke="#111" stroke-width="0.18" font-weight="bold" fill="#111" textLength="18.5" lengthAdjust="spacingAndGlyphs" >CLL021</text>
<line x1="131.55" y1="405.50" x2="150.05" y2="405.50" stroke="#111" stroke-width="0.6" />
<text x="113.10" y="413.90" font-size="5.3" text-anchor="start" stroke="#222" stroke-width="0.18" fill="#222" textLength="17.5" lengthAdjust="spacingAndGlyphs" >Pre(34)</text>
<text x="157.00" y="413.90" font-size="5.3" text-anchor="start" stroke="#222" stroke-width="0.18" fill="#222" textLength="17.2" lengthAdjust="spacingAndGlyphs" >Rel(34)</text>
<ellipse cx="141.60" cy="440.90" rx="26.00" ry="25.60" fill="#a25568" />
<text x="142.10" y="439.37" font-size="5.5" text-anchor="middle" fill="#fff" fill-opacity="0.9">34</text>
<text x="142.10" y="445.76" font-size="5.2" text-anchor="middle" fill="#fff" fill-opacity="0.9">(100%)</text>
<text x="241.10" y="405.10" font-size="5.6" text-anchor="middle" stroke="#111" stroke-width="0.18" font-weight="bold" fill="#111" textLength="18.5" lengthAdjust="spacingAndGlyphs" >CLL024</text>
<line x1="231.85" y1="405.50" x2="250.35" y2="405.50" stroke="#111" stroke-width="0.6" />
<text x="211.40" y="413.90" font-size="5.3" text-anchor="start" stroke="#222" stroke-width="0.18" fill="#222" textLength="17.5" lengthAdjust="spacingAndGlyphs" >Pre(19)</text>
<text x="255.30" y="413.90" font-size="5.3" text-anchor="start" stroke="#222" stroke-width="0.18" fill="#222" textLength="17.2" lengthAdjust="spacingAndGlyphs" >Rel(20)</text>
<ellipse cx="232.10" cy="440.90" rx="24.80" ry="25.60" fill="#8f89c4" />
<ellipse cx="246.80" cy="441.00" rx="25.60" ry="25.60" fill="#b6042f" />
<clipPath id="c5"><ellipse cx="232.1" cy="440.9" rx="24.8" ry="25.6"/></clipPath>
<ellipse cx="246.8" cy="441.0" rx="25.6" ry="25.6" fill="#a25568" clip-path="url(#c5)"/>
<text x="213.80" y="439.57" font-size="5.5" text-anchor="middle" fill="#fff" fill-opacity="0.9">1</text>
<text x="213.80" y="445.66" font-size="5.2" text-anchor="middle" fill="#fff" fill-opacity="0.9">(5%)</text>
<text x="238.20" y="439.57" font-size="5.5" text-anchor="middle" fill="#fff" fill-opacity="0.9">18</text>
<text x="238.20" y="445.66" font-size="5.2" text-anchor="middle" fill="#fff" fill-opacity="0.9">(86%)</text>
<text x="263.70" y="439.57" font-size="5.5" text-anchor="middle" fill="#fff" fill-opacity="0.9">2</text>
<text x="263.70" y="445.66" font-size="5.2" text-anchor="middle" fill="#fff" fill-opacity="0.9">(10%)</text>
<polygon points="261.80,453.50 264.80,453.50 264.80,465.90 267.10,465.90 263.30,469.50 259.50,465.90 261.80,465.90" fill="url(#ag)" stroke="url(#as)" stroke-width="1.0" stroke-linejoin="miter"/>
<polygon points="260.10,466.20 266.50,466.20 263.30,468.90" fill="#3a3a3a" opacity="0.6"/>
<text x="252.70" y="477.27" font-size="5.5" text-anchor="start" stroke="#222" stroke-width="0.12" fill="#222" >PCLO</text>
<text x="252.70" y="483.47" font-size="5.5" text-anchor="start" stroke="#222" stroke-width="0.12" fill="#222" >SPECC1</text>
<text x="280.00" y="198.72" font-size="10.4" text-anchor="start" stroke="#000" stroke-width="0.5" font-weight="bold" fill="#000" >D</text>
<rect x="292.0" y="202.4" width="221.20" height="118.00" fill="none" stroke="#111" stroke-width="1.4"/>
<line x1="379.80" y1="210.90" x2="513.20" y2="210.90" stroke="#111" stroke-width="1.4" />
<line x1="292.00" y1="222.30" x2="513.20" y2="222.30" stroke="#111" stroke-width="1.4" />
<line x1="292.00" y1="270.70" x2="513.20" y2="270.70" stroke="#111" stroke-width="1.4" />
<line x1="292.00" y1="295.60" x2="513.20" y2="295.60" stroke="#111" stroke-width="1.4" />
<line x1="292.00" y1="304.20" x2="513.20" y2="304.20" stroke="#111" stroke-width="1.4" />
<text x="294.80" y="214.23" font-size="5.4" text-anchor="start" stroke="#222" stroke-width="0.06" font-weight="bold" fill="#222" textLength="18.5" lengthAdjust="spacingAndGlyphs" >Patient</text>
<text x="348.40" y="207.79" font-size="5.0" text-anchor="middle" stroke="#222" stroke-width="0.06" font-weight="bold" fill="#222" textLength="60.8" lengthAdjust="spacingAndGlyphs" >Genetic lesions overlap</text>
<text x="348.40" y="214.19" font-size="5.0" text-anchor="middle" stroke="#222" stroke-width="0.06" font-weight="bold" fill="#222" textLength="43" lengthAdjust="spacingAndGlyphs" >between pre and</text>
<text x="348.40" y="220.49" font-size="5.0" text-anchor="middle" stroke="#222" stroke-width="0.06" font-weight="bold" fill="#222" textLength="52" lengthAdjust="spacingAndGlyphs" >relapse samples (%)</text>
<text x="446.20" y="208.09" font-size="5.0" text-anchor="middle" stroke="#222" stroke-width="0.06" font-weight="bold" fill="#222" textLength="105.2" lengthAdjust="spacingAndGlyphs" >Genetic lesions gained in relapse sample</text>
<text x="407.20" y="218.03" font-size="5.4" text-anchor="middle" stroke="#222" stroke-width="0.06" font-weight="bold" fill="#222" textLength="25.5" lengthAdjust="spacingAndGlyphs" >Mutations</text>
<text x="449.00" y="218.03" font-size="5.4" text-anchor="middle" stroke="#222" stroke-width="0.06" font-weight="bold" fill="#222" textLength="10.8" lengthAdjust="spacingAndGlyphs" >CNA</text>
<text x="491.00" y="218.03" font-size="5.4" text-anchor="middle" stroke="#222" stroke-width="0.06" font-weight="bold" fill="#222" >Total</text>
<text x="294.80" y="228.26" font-size="5.2" text-anchor="start" stroke="#222" stroke-width="0.12" fill="#222" textLength="19.2" lengthAdjust="spacingAndGlyphs" >CLL011</text>
<text x="348.20" y="228.19" font-size="5.0" text-anchor="middle" stroke="#222" stroke-width="0.12" fill="#222" >79</text>
<text x="407.00" y="228.19" font-size="5.0" text-anchor="middle" stroke="#222" stroke-width="0.12" fill="#222" >3</text>
<text x="449.00" y="228.19" font-size="5.0" text-anchor="middle" stroke="#222" stroke-width="0.12" fill="#222" >2</text>
<text x="491.00" y="228.19" font-size="5.0" text-anchor="middle" stroke="#222" stroke-width="0.12" fill="#222" >5</text>
<text x="294.80" y="236.41" font-size="5.2" text-anchor="start" stroke="#222" stroke-width="0.12" fill="#222" textLength="19.2" lengthAdjust="spacingAndGlyphs" >CLL012</text>
<text x="348.20" y="236.34" font-size="5.0" text-anchor="middle" stroke="#222" stroke-width="0.12" fill="#222" >54</text>
<text x="407.00" y="236.34" font-size="5.0" text-anchor="middle" stroke="#222" stroke-width="0.12" fill="#222" >5</text>
<text x="449.00" y="236.34" font-size="5.0" text-anchor="middle" stroke="#222" stroke-width="0.12" fill="#222" >15</text>
<text x="491.00" y="236.34" font-size="5.0" text-anchor="middle" stroke="#222" stroke-width="0.12" fill="#222" >20</text>
<text x="294.80" y="244.56" font-size="5.2" text-anchor="start" stroke="#222" stroke-width="0.12" fill="#222" textLength="19.2" lengthAdjust="spacingAndGlyphs" >CLL017</text>
<text x="348.20" y="244.49" font-size="5.0" text-anchor="middle" stroke="#222" stroke-width="0.12" fill="#222" >97</text>
<text x="407.00" y="244.49" font-size="5.0" text-anchor="middle" stroke="#222" stroke-width="0.12" fill="#222" >1</text>
<text x="449.00" y="244.49" font-size="5.0" text-anchor="middle" stroke="#222" stroke-width="0.12" fill="#222" >0</text>
<text x="491.00" y="244.49" font-size="5.0" text-anchor="middle" stroke="#222" stroke-width="0.12" fill="#222" >1</text>
<text x="294.80" y="252.71" font-size="5.2" text-anchor="start" stroke="#222" stroke-width="0.12" fill="#222" textLength="19.2" lengthAdjust="spacingAndGlyphs" >CLL019</text>
<text x="348.20" y="252.64" font-size="5.0" text-anchor="middle" stroke="#222" stroke-width="0.12" fill="#222" >100</text>
<text x="407.00" y="252.64" font-size="5.0" text-anchor="middle" stroke="#222" stroke-width="0.12" fill="#222" >0</text>
<text x="449.00" y="252.64" font-size="5.0" text-anchor="middle" stroke="#222" stroke-width="0.12" fill="#222" >0</text>
<text x="491.00" y="252.64" font-size="5.0" text-anchor="middle" stroke="#222" stroke-width="0.12" fill="#222" >0</text>
<text x="294.80" y="260.86" font-size="5.2" text-anchor="start" stroke="#222" stroke-width="0.12" fill="#222" textLength="19.2" lengthAdjust="spacingAndGlyphs" >CLL020</text>
<text x="348.20" y="260.79" font-size="5.0" text-anchor="middle" stroke="#222" stroke-width="0.12" fill="#222" >89</text>
<text x="407.00" y="260.79" font-size="5.0" text-anchor="middle" stroke="#222" stroke-width="0.12" fill="#222" >1</text>
<text x="449.00" y="260.79" font-size="5.0" text-anchor="middle" stroke="#222" stroke-width="0.12" fill="#222" >2</text>
<text x="491.00" y="260.79" font-size="5.0" text-anchor="middle" stroke="#222" stroke-width="0.12" fill="#222" >3</text>
<text x="294.80" y="269.01" font-size="5.2" text-anchor="start" stroke="#222" stroke-width="0.12" fill="#222" textLength="19.2" lengthAdjust="spacingAndGlyphs" >CLL022</text>
<text x="348.20" y="268.94" font-size="5.0" text-anchor="middle" stroke="#222" stroke-width="0.12" fill="#222" >63</text>
<text x="407.00" y="268.94" font-size="5.0" text-anchor="middle" stroke="#222" stroke-width="0.12" fill="#222" >6</text>
<text x="449.00" y="268.94" font-size="5.0" text-anchor="middle" stroke="#222" stroke-width="0.12" fill="#222" >3</text>
<text x="491.00" y="268.94" font-size="5.0" text-anchor="middle" stroke="#222" stroke-width="0.12" fill="#222" >9</text>
<text x="294.80" y="276.66" font-size="5.2" text-anchor="start" stroke="#222" stroke-width="0.12" fill="#222" textLength="19.2" lengthAdjust="spacingAndGlyphs" >CLL015</text>
<text x="348.20" y="276.59" font-size="5.0" text-anchor="middle" stroke="#222" stroke-width="0.12" fill="#222" >87</text>
<text x="407.00" y="276.59" font-size="5.0" text-anchor="middle" stroke="#222" stroke-width="0.12" fill="#222" >2</text>
<text x="449.00" y="276.59" font-size="5.0" text-anchor="middle" stroke="#222" stroke-width="0.12" fill="#222" >0</text>
<text x="491.00" y="276.59" font-size="5.0" text-anchor="middle" stroke="#222" stroke-width="0.12" fill="#222" >2</text>
<text x="294.80" y="284.86" font-size="5.2" text-anchor="start" stroke="#222" stroke-width="0.12" fill="#222" textLength="19.2" lengthAdjust="spacingAndGlyphs" >CLL021</text>
<text x="348.20" y="284.79" font-size="5.0" text-anchor="middle" stroke="#222" stroke-width="0.12" fill="#222" >100</text>
<text x="407.00" y="284.79" font-size="5.0" text-anchor="middle" stroke="#222" stroke-width="0.12" fill="#222" >0</text>
<text x="449.00" y="284.79" font-size="5.0" text-anchor="middle" stroke="#222" stroke-width="0.12" fill="#222" >0</text>
<text x="491.00" y="284.79" font-size="5.0" text-anchor="middle" stroke="#222" stroke-width="0.12" fill="#222" >0</text>
<text x="294.80" y="293.06" font-size="5.2" text-anchor="start" stroke="#222" stroke-width="0.12" fill="#222" textLength="19.2" lengthAdjust="spacingAndGlyphs" >CLL024</text>
<text x="348.20" y="292.99" font-size="5.0" text-anchor="middle" stroke="#222" stroke-width="0.12" fill="#222" >86</text>
<text x="407.00" y="292.99" font-size="5.0" text-anchor="middle" stroke="#222" stroke-width="0.12" fill="#222" >2</text>
<text x="449.00" y="292.99" font-size="5.0" text-anchor="middle" stroke="#222" stroke-width="0.12" fill="#222" >0</text>
<text x="491.00" y="292.99" font-size="5.0" text-anchor="middle" stroke="#222" stroke-width="0.12" fill="#222" >2</text>
<text x="297.50" y="310.59" font-size="5.0" text-anchor="start" stroke="#222" stroke-width="0.18" fill="#222" >Mean</text>
<text x="296.70" y="316.99" font-size="5.0" text-anchor="start" stroke="#222" stroke-width="0.18" fill="#222" >Range</text>
<text x="348.20" y="310.59" font-size="5.0" text-anchor="middle" stroke="#222" stroke-width="0.18" fill="#222" >83.8</text>
<text x="348.20" y="316.99" font-size="5.0" text-anchor="middle" stroke="#222" stroke-width="0.18" fill="#222" >54-100</text>
<text x="407.00" y="310.59" font-size="5.0" text-anchor="middle" stroke="#222" stroke-width="0.18" fill="#222" >2.2</text>
<text x="407.00" y="316.99" font-size="5.0" text-anchor="middle" stroke="#222" stroke-width="0.18" fill="#222" >0-6</text>
<text x="449.00" y="310.59" font-size="5.0" text-anchor="middle" stroke="#222" stroke-width="0.18" fill="#222" >2.4</text>
<text x="449.00" y="316.99" font-size="5.0" text-anchor="middle" stroke="#222" stroke-width="0.18" fill="#222" >0-15</text>
<text x="491.00" y="310.59" font-size="5.0" text-anchor="middle" stroke="#222" stroke-width="0.18" fill="#222" >4.6</text>
<text x="491.00" y="316.99" font-size="5.0" text-anchor="middle" stroke="#222" stroke-width="0.18" fill="#222" >0-20</text>
<text x="285.60" y="345.72" font-size="10.4" text-anchor="start" stroke="#000" stroke-width="0.5" font-weight="bold" fill="#000" >E</text>
<rect x="295.90" y="366.00" width="24.10" height="8.30" fill="#bcb8df" />
<rect x="320.00" y="366.00" width="24.40" height="8.30" fill="#bcb8df" />
<rect x="368.60" y="366.00" width="24.00" height="8.30" fill="#bcb8df" />
<rect x="416.60" y="366.00" width="24.40" height="8.30" fill="#bcb8df" />
<rect x="441.00" y="366.00" width="24.20" height="8.30" fill="#bcb8df" />
<rect x="489.40" y="366.00" width="24.10" height="8.30" fill="#d9948a" />
<rect x="416.60" y="374.30" width="24.40" height="8.40" fill="#d9948a" />
<text x="307.95" y="372.05" font-size="5.3" text-anchor="middle" stroke="#34326e" stroke-width="0.18" fill="#34326e" >BTK</text>
<text x="332.20" y="372.05" font-size="5.3" text-anchor="middle" stroke="#34326e" stroke-width="0.18" fill="#34326e" >BTK*</text>
<text x="356.50" y="372.05" font-size="5.3" text-anchor="middle" stroke="#222" stroke-width="0.18" fill="#222" >IRF4</text>
<text x="380.60" y="372.05" font-size="5.3" text-anchor="middle" stroke="#34326e" stroke-width="0.18" fill="#34326e" >BTK*</text>
<text x="404.60" y="372.05" font-size="5.3" text-anchor="middle" stroke="#222" stroke-width="0.18" fill="#222" >MPL</text>
<text x="428.80" y="372.05" font-size="5.3" text-anchor="middle" stroke="#34326e" stroke-width="0.18" fill="#34326e" >BTK</text>
<text x="453.10" y="372.05" font-size="5.3" text-anchor="middle" stroke="#34326e" stroke-width="0.18" fill="#34326e" >BTK*</text>
<text x="501.45" y="372.05" font-size="5.3" text-anchor="middle" stroke="#7a1212" stroke-width="0.18" fill="#7a1212" >PCLO</text>
<text x="307.95" y="380.40" font-size="5.3" text-anchor="middle" stroke="#222" stroke-width="0.18" fill="#222" >GLCCI1</text>
<text x="332.20" y="380.40" font-size="5.3" text-anchor="middle" stroke="#222" stroke-width="0.18" fill="#222" >ZMYM3</text>
<text x="428.80" y="380.40" font-size="5.3" text-anchor="middle" stroke="#7a1212" stroke-width="0.18" fill="#7a1212" >PCLO</text>
<text x="501.45" y="380.40" font-size="5.3" text-anchor="middle" stroke="#222" stroke-width="0.18" fill="#222" >ACSL6</text>
<text x="307.95" y="388.85" font-size="5.3" text-anchor="middle" stroke="#222" stroke-width="0.18" fill="#222" >NOTCH3</text>
<text x="332.20" y="388.85" font-size="5.3" text-anchor="middle" stroke="#222" stroke-width="0.18" fill="#222" >MLLT6</text>
<text x="428.80" y="388.85" font-size="5.3" text-anchor="middle" stroke="#222" stroke-width="0.18" fill="#222" >BCOR</text>
<text x="501.45" y="388.85" font-size="5.3" text-anchor="middle" stroke="#222" stroke-width="0.18" fill="#222" >SPECC1</text>
<text x="332.20" y="397.35" font-size="5.3" text-anchor="middle" stroke="#222" stroke-width="0.18" fill="#222" >MAOA</text>
<text x="428.80" y="397.35" font-size="5.3" text-anchor="middle" stroke="#222" stroke-width="0.18" fill="#222" >FBXW7</text>
<text x="428.80" y="405.75" font-size="5.3" text-anchor="middle" stroke="#222" stroke-width="0.18" fill="#222" >APC</text>
<text x="428.80" y="414.00" font-size="5.3" text-anchor="middle" stroke="#222" stroke-width="0.18" fill="#222" >KRAS</text>
<text x="428.80" y="422.35" font-size="5.3" text-anchor="middle" stroke="#222" stroke-width="0.18" fill="#222" >NTF3</text>
<text x="307.95" y="363.76" font-size="5.2" text-anchor="middle" stroke="#111" stroke-width="0.18" font-weight="bold" fill="#111" textLength="19.5" lengthAdjust="spacingAndGlyphs" >CLL011</text>
<text x="332.20" y="363.76" font-size="5.2" text-anchor="middle" stroke="#111" stroke-width="0.18" font-weight="bold" fill="#111" textLength="19.5" lengthAdjust="spacingAndGlyphs" >CLL012</text>
<text x="356.50" y="363.76" font-size="5.2" text-anchor="middle" stroke="#111" stroke-width="0.18" font-weight="bold" fill="#111" textLength="19.5" lengthAdjust="spacingAndGlyphs" >CLL017</text>
<text x="380.60" y="363.76" font-size="5.2" text-anchor="middle" stroke="#111" stroke-width="0.18" font-weight="bold" fill="#111" textLength="19.5" lengthAdjust="spacingAndGlyphs" >CLL019</text>
<text x="404.60" y="363.76" font-size="5.2" text-anchor="middle" stroke="#111" stroke-width="0.18" font-weight="bold" fill="#111" textLength="19.5" lengthAdjust="spacingAndGlyphs" >CLL020</text>
<text x="428.80" y="363.76" font-size="5.2" text-anchor="middle" stroke="#111" stroke-width="0.18" font-weight="bold" fill="#111" textLength="19.5" lengthAdjust="spacingAndGlyphs" >CLL022</text>
<text x="453.10" y="363.76" font-size="5.2" text-anchor="middle" stroke="#111" stroke-width="0.18" font-weight="bold" fill="#111" textLength="19.5" lengthAdjust="spacingAndGlyphs" >CLL015</text>
<text x="477.30" y="363.76" font-size="5.2" text-anchor="middle" stroke="#111" stroke-width="0.18" font-weight="bold" fill="#111" textLength="19.5" lengthAdjust="spacingAndGlyphs" >CLL021</text>
<text x="501.45" y="363.76" font-size="5.2" text-anchor="middle" stroke="#111" stroke-width="0.18" font-weight="bold" fill="#111" textLength="19.5" lengthAdjust="spacingAndGlyphs" >CLL024</text>
<text x="368.45" y="355.93" font-size="5.4" text-anchor="middle" stroke="#111" stroke-width="0.18" font-weight="bold" fill="#111" textLength="21.9" lengthAdjust="spacingAndGlyphs" >RT cases</text>
<text x="477.25" y="355.93" font-size="5.4" text-anchor="middle" stroke="#111" stroke-width="0.18" font-weight="bold" fill="#111" textLength="35.5" lengthAdjust="spacingAndGlyphs" >Non-RT cases</text>
<rect x="295.9" y="349.6" width="217.60" height="75.10" fill="none" stroke="#111" stroke-width="1.3"/>
<line x1="295.90" y1="357.80" x2="513.50" y2="357.80" stroke="#111" stroke-width="1.3" />
<line x1="295.90" y1="366.00" x2="513.50" y2="366.00" stroke="#111" stroke-width="1.3" />
<line x1="295.90" y1="374.30" x2="513.50" y2="374.30" stroke="#111" stroke-width="1.3" />
<line x1="295.90" y1="382.70" x2="513.50" y2="382.70" stroke="#111" stroke-width="1.3" />
<line x1="295.90" y1="391.20" x2="513.50" y2="391.20" stroke="#111" stroke-width="1.3" />
<line x1="295.90" y1="399.70" x2="513.50" y2="399.70" stroke="#111" stroke-width="1.3" />
<line x1="295.90" y1="408.00" x2="513.50" y2="408.00" stroke="#111" stroke-width="1.3" />
<line x1="295.90" y1="416.20" x2="513.50" y2="416.20" stroke="#111" stroke-width="1.3" />
<line x1="320.00" y1="357.80" x2="320.00" y2="424.70" stroke="#111" stroke-width="1.3" />
<line x1="344.40" y1="357.80" x2="344.40" y2="424.70" stroke="#111" stroke-width="1.3" />
<line x1="368.60" y1="357.80" x2="368.60" y2="424.70" stroke="#111" stroke-width="1.3" />
<line x1="392.60" y1="357.80" x2="392.60" y2="424.70" stroke="#111" stroke-width="1.3" />
<line x1="416.60" y1="357.80" x2="416.60" y2="424.70" stroke="#111" stroke-width="1.3" />
<line x1="441.00" y1="349.60" x2="441.00" y2="424.70" stroke="#111" stroke-width="1.3" />
<line x1="465.20" y1="357.80" x2="465.20" y2="424.70" stroke="#111" stroke-width="1.3" />
<line x1="489.40" y1="357.80" x2="489.40" y2="424.70" stroke="#111" stroke-width="1.3" />
<rect x="0.00" y="0.00" width="1.50" height="492.00" fill="#000" />
<rect x="0.00" y="0.00" width="520.00" height="1.30" fill="#000" />
<rect x="518.50" y="0.00" width="1.50" height="492.00" fill="#000" />
<rect x="0.00" y="490.30" width="520.00" height="1.70" fill="#000" />
</svg>
</body></html>
